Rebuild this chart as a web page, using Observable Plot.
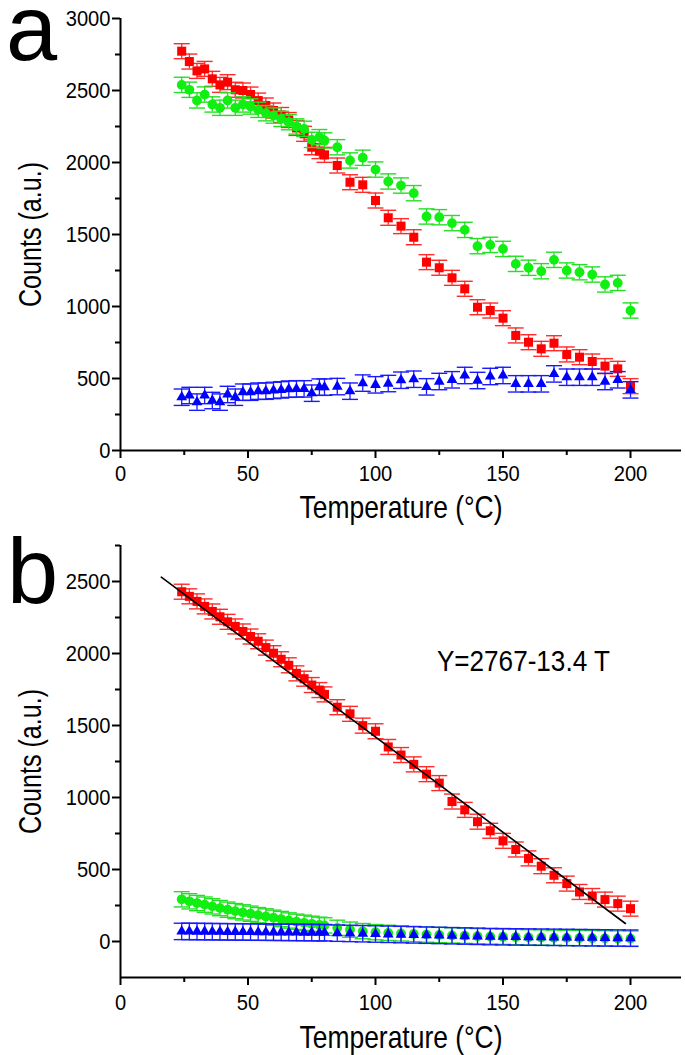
<!DOCTYPE html>
<html><head><meta charset="utf-8">
<script src="https://cdn.jsdelivr.net/npm/d3@7"></script>
<script src="https://cdn.jsdelivr.net/npm/@observablehq/plot@0.6"></script>
<style>
html,body{margin:0;padding:0;background:#fff;}
#chart{width:685px;}
#chart svg{display:block;}
</style></head><body><div id="chart"></div>
<script>
// ---------- data ----------
const temps = [24,27,30,33,36,39,42,45,48,51,54,57,60,63,66,69,72,75,78,80,
  85,90,95,100,105,110,115,120,125,130,135,140,145,150,155,160,165,170,175,180,185,190,195,200];

// panel a
const redA = [2773,2701,2636,2650,2581,2539,2558,2505,2500,2472,2430,2396,2361,2330,2295,2240,2199,2106,2079,2053,
  1979,1863,1845,1736,1616,1558,1481,1308,1269,1199,1123,995,972,919,799,752,706,745,667,648,618,586,567,447];
const greenA = [2539,2505,2431,2472,2403,2380,2431,2380,2403,2389,2366,2342,2326,2303,2280,2250,2234,2157,2176,2153,
  2106,2014,2033,1951,1868,1840,1787,1625,1620,1579,1532,1419,1428,1400,1296,1269,1245,1324,1250,1238,1222,1153,1164,972];
const blueA = [370,382,336,382,347,336,389,370,405,405,412,412,417,421,426,428,428,398,440,440,
  444,412,468,456,465,488,495,442,479,491,521,486,514,521,463,463,463,532,509,509,509,479,491,421];
const errA = {red: 52, green: 53, blue: 57};

// panel b
const redB = [2429,2397,2362,2327,2292,2255,2220,2188,2153,2118,2085,2041,2002,1960,1918,1862,1825,1781,1746,1716,
  1627,1581,1499,1460,1351,1295,1230,1162,1100,972,914,832,769,699,639,577,523,460,402,344,316,291,263,228];
const greenB = [293,279,267,256,244,232,221,211,202,193,183,174,165,156,146,137,130,123,116,112,
  95,82,72,65,60,56,52,48,45,42,40,37,35,33,31,29,28,26,25,24,23,22,21,20];
const blueB = [70,70,69,69,68,68,67,67,66,66,65,65,64,64,63,63,62,62,61,61,
  58,56,54,52,50,48,46,44,42,40,38,36,34,33,32,31,30,29,28,27,26,25,24,23];
const errB = {red: 52, green: 53, blue: 57};
const fitT = [16, 198];
const fitY = [2530, 125];
const fitLabel = "Y=2767-13.4 T";

// axes
const xTicks = [0, 50, 100, 150, 200];
const xMinor = [25, 75, 125, 175];
const yTicksA = [0, 500, 1000, 1500, 2000, 2500, 3000];
const yMinorA = [250, 750, 1250, 1750, 2250, 2750];
const yTicksB = [0, 500, 1000, 1500, 2000, 2500];
const yMinorB = [250, 750, 1250, 1750, 2250, 2750];
const xLabel = "Temperature (°C)";
const yLabel = "Counts (a.u.)";

// ---------- styling ----------
const C = {red: "#ff0000", green: "#11ee11", blue: "#0000ff",
           redBar: "#ff2a2a", greenBar: "#22e022", blueBar: "#1a1aff"};
const FONT = "'Liberation Sans', Arial, Helvetica, sans-serif";
const cap = {draw(ctx, size) { const r = Math.sqrt(size / Math.PI); ctx.moveTo(-r, 0); ctx.lineTo(r, 0); }};
const TICK_FS = 22;
const blank = () => "";

function series(vals, err, color, barColor, symbol, r) {
  const rows = temps.map((t, i) => ({T: t, v: vals[i], lo: vals[i] - err, hi: vals[i] + err}));
  return [
    Plot.ruleX(rows, {x: "T", y1: "lo", y2: "hi", stroke: barColor, strokeWidth: 1.3}),
    Plot.dot(rows, {x: "T", y: "hi", symbol: cap, r: 8, stroke: barColor, strokeWidth: 1.4}),
    Plot.dot(rows, {x: "T", y: "lo", symbol: cap, r: 8, stroke: barColor, strokeWidth: 1.4}),
    Plot.dot(rows, {x: "T", y: "v", symbol, r, fill: color, stroke: "none"})
  ];
}

function axes(yDomain, yTicks, yMinor, xLabelDy) {
  return [
    Plot.axisY(yTicks, {tickSize: 8, strokeWidth: 2, tickFormat: blank, label: null}),
    Plot.axisY(yMinor, {tickSize: 5, strokeWidth: 2, tickFormat: blank, label: null}),
    Plot.axisX(xTicks, {tickSize: 8, strokeWidth: 2, tickFormat: blank, label: null}),
    Plot.axisX(xMinor, {tickSize: 5, strokeWidth: 2, tickFormat: blank, label: null}),
    Plot.ruleX([0], {stroke: "black", strokeWidth: 2}),
    Plot.ruleY([yDomain[0]], {stroke: "black", strokeWidth: 2}),
    // tick labels
    Plot.text(yTicks, {y: d => d, text: d => String(d), frameAnchor: "left", dx: -10,
                       textAnchor: "end", lineAnchor: "middle", fontSize: TICK_FS}),
    Plot.text(xTicks, {x: d => d, text: d => String(d), frameAnchor: "bottom", dy: xLabelDy,
                       textAnchor: "middle", lineAnchor: "middle", fontSize: TICK_FS})
  ];
}

const style = {fontFamily: FONT, fontSize: TICK_FS + "px", color: "black", background: "white", overflow: "visible"};
const txt = {textAnchor: "middle", lineAnchor: "middle"};

const domA = [0, 3000];
const plotA = Plot.plot({
  width: 685, height: 530, marginLeft: 120, marginRight: 4, marginTop: 18, marginBottom: 80,
  style,
  x: {domain: [0, 220]}, y: {domain: domA},
  marks: [
    ...axes(domA, yTicksA, yMinorA, 23),
    ...series(redA, errA.red, C.red, C.redBar, "square", 5.1),
    ...series(greenA, errA.green, C.green, C.greenBar, "circle", 4.9),
    ...series(blueA, errA.blue, C.blue, C.blueBar, "triangle", 4.0),
    Plot.text([xLabel], {...txt, frameAnchor: "bottom", dy: 57, fontSize: 32}),
    Plot.text([yLabel], {...txt, frameAnchor: "left", dx: -90, rotate: -90, fontSize: 32}),
    Plot.text(["a"], {...txt, frameAnchor: "top-left", dx: -89, dy: 12, fontSize: 92})
  ]
});

const domB = [-250, 2750];
const fitRows = fitT.map((t, i) => ({T: t, Y: fitY[i]}));
const plotB = Plot.plot({
  width: 685, height: 525, marginLeft: 120, marginRight: 4, marginTop: 15, marginBottom: 78,
  style,
  x: {domain: [0, 220]}, y: {domain: domB},
  marks: [
    ...axes(domB, yTicksB, yMinorB, 25),
    ...series(redB, errB.red, C.red, C.redBar, "square", 5.1),
    ...series(greenB, errB.green, C.green, C.greenBar, "circle", 4.9),
    ...series(blueB, errB.blue, C.blue, C.blueBar, "triangle", 4.0),
    Plot.line(fitRows, {x: "T", y: "Y", stroke: "black", strokeWidth: 1.6}),
    Plot.text([fitLabel], {...txt, x: () => 158, y: () => 1940, fontSize: 29}),
    Plot.text([xLabel], {...txt, frameAnchor: "bottom", dy: 60, fontSize: 32}),
    Plot.text([yLabel], {...txt, frameAnchor: "left", dx: -90, rotate: -90, fontSize: 32}),
    Plot.text(["b"], {...txt, frameAnchor: "top-left", dx: -88, dy: 28, fontSize: 92})
  ]
});

const root = document.getElementById("chart");
root.appendChild(plotA);
root.appendChild(plotB);

// condensed look of the original lettering
const targets = {"Temperature (°C)": 203, "Counts (a.u.)": 145, "Y=2767-13.4 T": 173};
const perDigit = 11.2;
for (const svg of [plotA, plotB]) {
  svg.querySelectorAll("text").forEach(t => {
    const s = t.textContent;
    if (!s) return;
    let target = null;
    if (/^-?\d+$/.test(s)) target = s.length * perDigit;
    else if (s in targets) target = targets[s];
    if (target == null) return;
    t.setAttribute("textLength", target);
    t.setAttribute("lengthAdjust", "spacingAndGlyphs");
  });
}
</script></body></html>
